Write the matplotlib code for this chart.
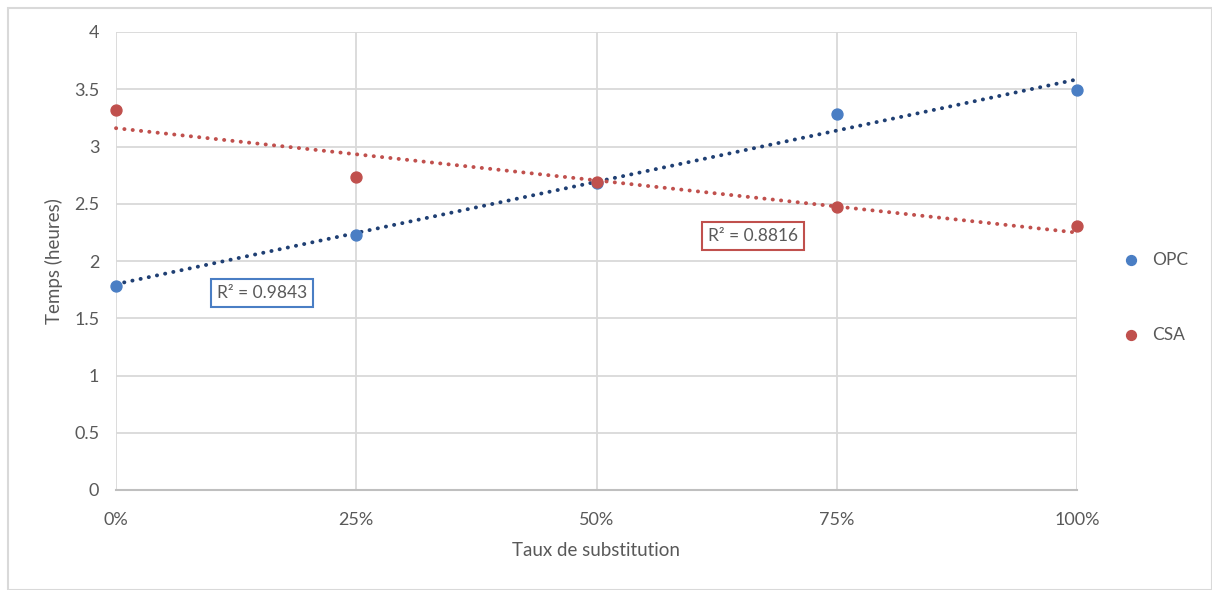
import numpy as np
import matplotlib
matplotlib.use("Agg")
import matplotlib.pyplot as plt
from matplotlib.patches import Rectangle

plt.rcParams['font.family'] = ['Lato', 'DejaVu Sans']

x_vals = [0.0, 0.25, 0.5, 0.75, 1.0]
x_labels = ['0%', '25%', '50%', '75%', '100%']
opc = [1.78, 2.23, 2.68, 3.28, 3.49]
csa = [3.32, 2.73, 2.69, 2.47, 2.31]
r2_opc = 'R² = 0.9843'
r2_csa = 'R² = 0.8816'
series_names = ['OPC', 'CSA']

txt = '#595959'
blue = '#4A7EC4'
blue_dark = '#1F3F73'
red = '#C0504D'
grid = '#D9D9D9'

fig = plt.figure(figsize=(12.12, 5.90), dpi=100)
fig.patches.append(Rectangle((8/1212, 0), 1 - 8/1212, 1 - 8/590, transform=fig.transFigure,
                             fill=False, edgecolor='#D9D9D9', linewidth=1.5))
ax = fig.add_axes([116/1212, 1 - 490/590, (1077-116)/1212, (490-32)/590])

ax.set_xlim(0, 1)
ax.set_ylim(0, 4)
ax.set_xticks(x_vals)
ax.set_xticklabels(x_labels)
ax.set_yticks(np.arange(0, 4.01, 0.5))
ax.set_yticklabels(['0', '0.5', '1', '1.5', '2', '2.5', '3', '3.5', '4'])
ax.grid(True, color=grid, linewidth=1.3)
ax.set_axisbelow(True)
for s in ['top', 'right', 'left']:
    ax.spines[s].set_visible(False)
ax.spines['bottom'].set_color('#BFBFBF')
ax.spines['bottom'].set_linewidth(1.5)
ax.tick_params(length=0, labelsize=13, colors=txt, pad=12)
ax.tick_params(axis='x', pad=16)

xs = np.array(x_vals)
xx = np.linspace(0, 1, 200)
for ys, mc, tc in [(opc, blue, blue_dark), (csa, red, red)]:
    p = np.polyfit(xs, ys, 1)
    ax.plot(xx, np.polyval(p, xx), linestyle=(0, (0.05, 2.1)), color=tc, linewidth=2.8,
            dash_capstyle='round', clip_on=False, zorder=2)

ax.scatter(xs, opc, s=62, color=blue, zorder=3, clip_on=False, label=series_names[0])
ax.scatter(xs, csa, s=62, color=red, zorder=3, clip_on=False, label=series_names[1])

ax.text(0.1518, 1.72, r2_opc, fontsize=12.5, color=txt, ha='center', va='center',
        bbox=dict(boxstyle='square,pad=0.35', fc='white', ec=blue, lw=1.5))
ax.text(0.6625, 2.22, r2_csa, fontsize=12.5, color=txt, ha='center', va='center',
        bbox=dict(boxstyle='square,pad=0.35', fc='white', ec=red, lw=1.5))

ax.set_xlabel('Taux de substitution', fontsize=13.5, color=txt, labelpad=10)
ax.set_ylabel('Temps (heures)', fontsize=13.5, color=txt, labelpad=8)

leg = ax.legend(loc='center left', bbox_to_anchor=(1.022, 0.421), frameon=False,
                fontsize=12.5, labelcolor=txt, handletextpad=0.2, labelspacing=3.4,
                markerscale=0.9)

fig.savefig('out.png', dpi=100)
